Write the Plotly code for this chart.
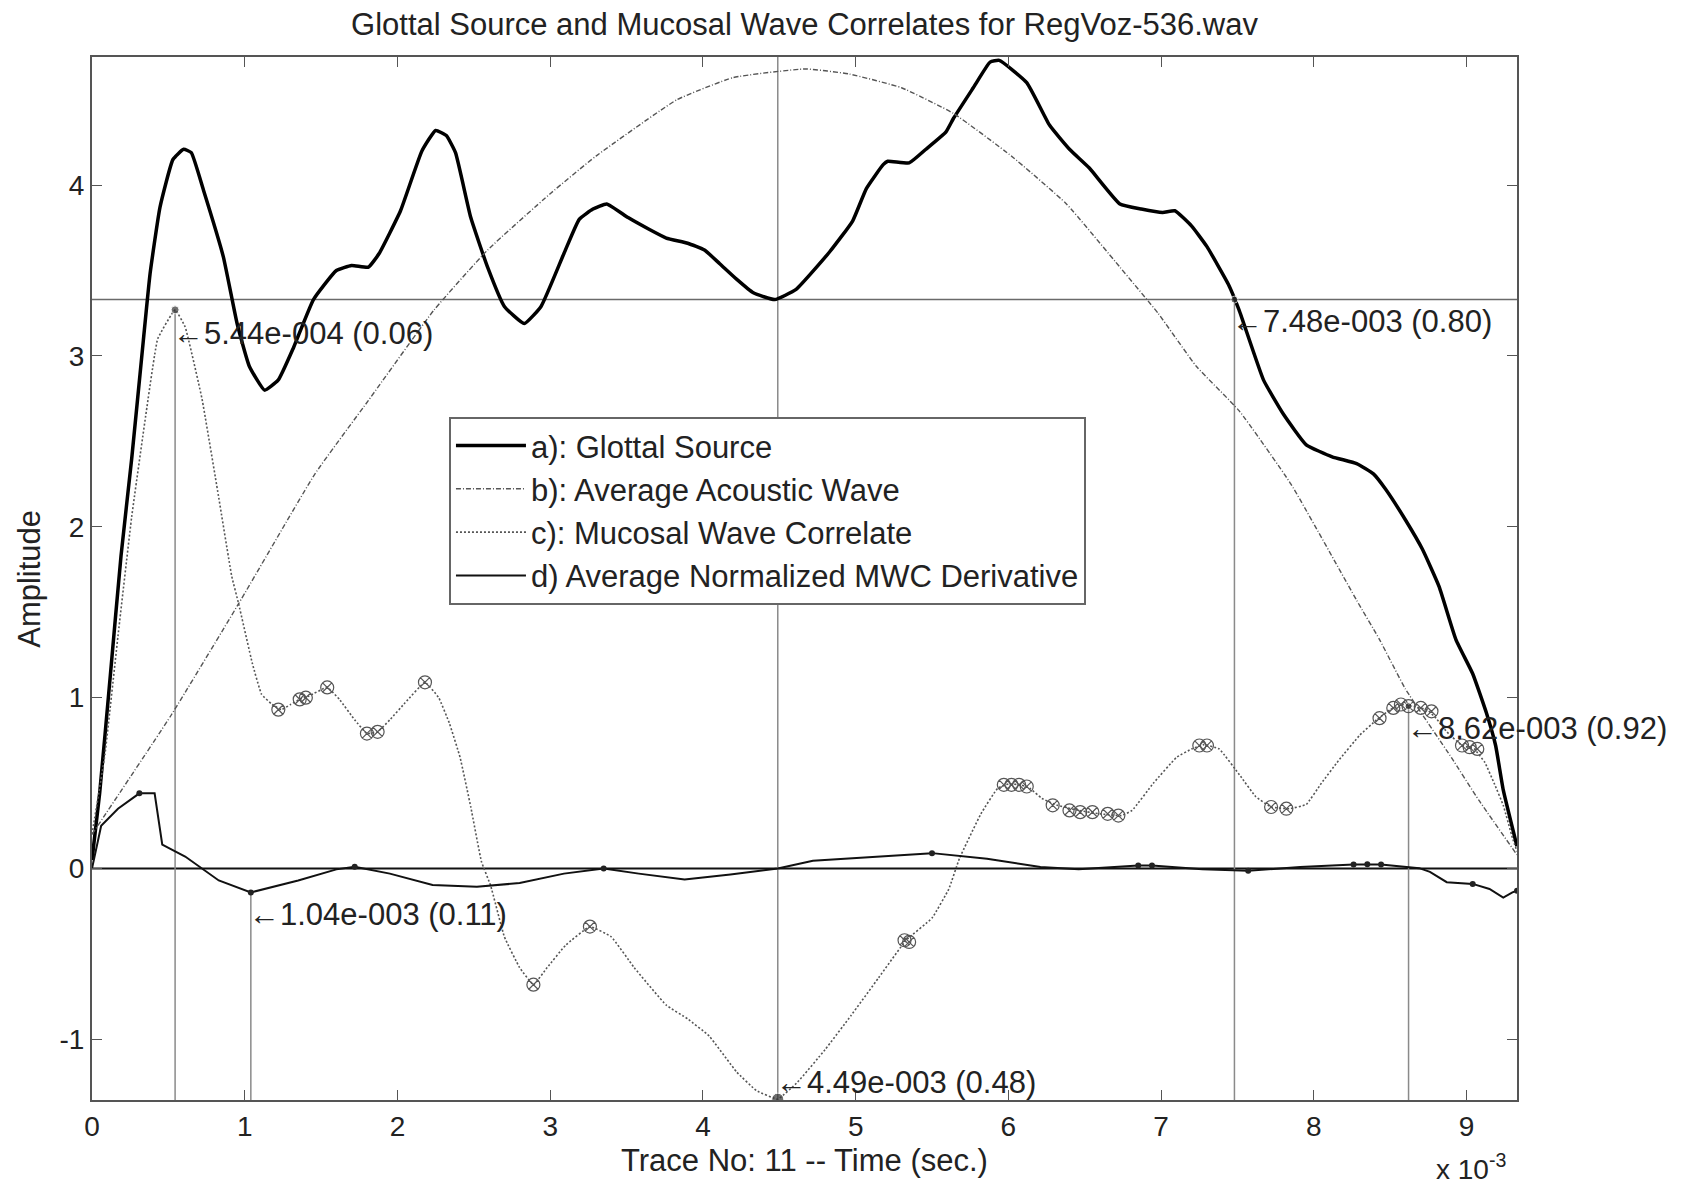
import plotly.graph_objects as go

# time axis in units of 1e-3 s (the axis carries an "x 10^-3" multiplier)

# a) glottal source
glottal_t = [0.0, 0.05, 0.12, 0.19, 0.26, 0.336, 0.38, 0.445, 0.53, 0.6, 0.65, 0.73, 0.86, 0.95,
             1.03, 1.13, 1.22, 1.32, 1.45, 1.6, 1.7, 1.81, 1.88, 2.02, 2.16, 2.25, 2.32, 2.38, 2.48,
             2.59, 2.70, 2.83, 2.94, 3.09, 3.19, 3.28, 3.37, 3.51, 3.65, 3.76, 3.9, 4.01, 4.11, 4.22,
             4.33, 4.47, 4.61, 4.83, 4.98, 5.07, 5.18, 5.21, 5.35, 5.46, 5.59, 5.64, 5.77, 5.88, 5.94,
             6.12, 6.27, 6.40, 6.53, 6.73, 6.87, 7.01, 7.09, 7.2, 7.30, 7.44, 7.51, 7.67, 7.80, 7.95,
             8.12, 8.28, 8.39, 8.47, 8.60, 8.71, 8.82, 8.93, 9.04, 9.13, 9.19, 9.24, 9.33]
glottal_a = [0.05, 0.44, 1.13, 1.83, 2.40, 3.09, 3.48, 3.87, 4.15, 4.21, 4.19, 3.97, 3.58, 3.19,
             2.94, 2.80, 2.86, 3.05, 3.33, 3.5, 3.53, 3.52, 3.6, 3.85, 4.2, 4.32, 4.29, 4.19, 3.81,
             3.52, 3.29, 3.19, 3.29, 3.6, 3.8, 3.86, 3.89, 3.81, 3.74, 3.69, 3.66, 3.62, 3.54, 3.45,
             3.37, 3.33, 3.39, 3.61, 3.79, 3.98, 4.12, 4.14, 4.13, 4.21, 4.31, 4.39, 4.57, 4.72, 4.73,
             4.60, 4.35, 4.21, 4.10, 3.89, 3.86, 3.84, 3.85, 3.76, 3.64, 3.42, 3.27, 2.86, 2.66, 2.48,
             2.41, 2.37, 2.31, 2.22, 2.04, 1.87, 1.65, 1.34, 1.14, 0.91, 0.72, 0.46, 0.13]

# b) average acoustic wave
acoustic_t = [0.0, 0.52, 0.96, 1.46, 1.81, 2.24, 2.59, 3.0, 3.3, 3.83, 4.2, 4.67, 4.96, 5.3, 5.64,
              6.02, 6.38, 6.73, 6.98, 7.23, 7.51, 7.85, 8.28, 8.43, 8.60, 8.9, 9.08, 9.33]
acoustic_a = [0.2, 0.9, 1.55, 2.31, 2.74, 3.27, 3.62, 3.95, 4.17, 4.50, 4.63, 4.68, 4.65, 4.57, 4.42,
              4.17, 3.89, 3.52, 3.25, 2.94, 2.68, 2.25, 1.57, 1.34, 1.05, 0.65, 0.40, 0.08]

# c) mucosal wave correlate
mwc_t = [0.0, 0.085, 0.17, 0.26, 0.35, 0.43, 0.544, 0.61, 0.72, 0.83, 0.915, 0.96, 1.05, 1.11, 1.18,
         1.24, 1.30, 1.36, 1.42, 1.54, 1.62, 1.72, 1.80, 1.87, 1.95, 2.05, 2.18, 2.27, 2.34, 2.41,
         2.48, 2.55, 2.61, 2.70, 2.80, 2.89, 2.98, 3.10, 3.26, 3.40, 3.55, 3.76, 3.90, 4.04, 4.22,
         4.35, 4.49, 4.62, 4.80, 4.97, 5.15, 5.33, 5.50, 5.61, 5.68, 5.82, 5.93, 6.00, 6.08, 6.14,
         6.22, 6.32, 6.46, 6.60, 6.74, 6.81, 6.95, 7.10, 7.20, 7.28, 7.38, 7.52, 7.62, 7.72, 7.84,
         7.95, 8.05, 8.16, 8.30, 8.41, 8.50, 8.58, 8.65, 8.74, 8.80, 8.87, 8.97, 9.05, 9.12, 9.18,
         9.24, 9.30, 9.33]
mwc_a = [0.2, 0.67, 1.36, 2.06, 2.64, 3.10, 3.27, 3.17, 2.75, 2.17, 1.71, 1.55, 1.20, 1.02, 0.96,
         0.93, 0.96, 0.99, 1.01, 1.06, 0.99, 0.87, 0.79, 0.80, 0.87, 0.97, 1.09, 1.0, 0.85, 0.65,
         0.36, 0.04, -0.10, -0.40, -0.58, -0.68, -0.58, -0.45, -0.34, -0.40, -0.58, -0.80, -0.88, -0.98, -1.19,
         -1.30, -1.35, -1.25, -1.06, -0.86, -0.64, -0.42, -0.29, -0.12, 0.06, 0.32, 0.47, 0.495, 0.49, 0.47,
         0.41, 0.37, 0.34, 0.32, 0.31, 0.34, 0.50, 0.65, 0.70, 0.725, 0.70, 0.54, 0.42, 0.36, 0.35,
         0.375, 0.50, 0.63, 0.78, 0.87, 0.93, 0.96, 0.95, 0.93, 0.88, 0.80, 0.72, 0.70, 0.62, 0.50,
         0.37, 0.18, 0.10]

# circles on the MWC local extrema
mwc_peak_t = [1.22, 1.36, 1.40, 1.54, 1.80, 1.87, 2.18, 2.89, 3.26, 5.32, 5.35, 5.97, 6.02, 6.07, 6.12,
              6.29, 6.40, 6.47, 6.55, 6.65, 6.72, 7.25, 7.30, 7.72, 7.82, 8.43, 8.52, 8.57, 8.62, 8.70,
              8.77, 8.97, 9.02, 9.07]
mwc_peak_a = [0.93, 0.99, 1.0, 1.06, 0.79, 0.80, 1.09, -0.68, -0.34, -0.42, -0.43, 0.49, 0.49, 0.49, 0.48,
              0.37, 0.34, 0.33, 0.33, 0.32, 0.31, 0.72, 0.72, 0.36, 0.35, 0.88, 0.94, 0.96, 0.95, 0.94,
              0.92, 0.72, 0.71, 0.70]

# d) average normalized MWC derivative
deriv_t = [0.0, 0.06, 0.17, 0.31, 0.41, 0.46, 0.61, 0.83, 1.04, 1.35, 1.60, 1.72, 1.95, 2.23, 2.52,
           2.80, 3.09, 3.35, 3.58, 3.88, 4.18, 4.49, 4.72, 4.97, 5.50, 5.86, 6.21, 6.46, 6.85, 6.94,
           7.27, 7.57, 7.91, 8.26, 8.35, 8.44, 8.69, 8.76, 8.87, 9.04, 9.15, 9.24, 9.30, 9.33]
deriv_a = [0.0, 0.25, 0.35, 0.44, 0.44, 0.14, 0.07, -0.07, -0.14, -0.07, -0.005, 0.01, -0.03, -0.096, -0.107,
           -0.085, -0.03, 0.0, -0.03, -0.064, -0.035, 0.0, 0.046, 0.061, 0.09, 0.057, 0.009, -0.004, 0.018, 0.018,
           -0.004, -0.013, 0.009, 0.024, 0.025, 0.024, 0.002, -0.02, -0.08, -0.09, -0.12, -0.17, -0.14, -0.13]
deriv_dot_t = [0.31, 1.04, 1.72, 3.35, 5.50, 6.85, 6.94, 7.57, 8.26, 8.35, 8.44, 9.04, 9.33]
deriv_dot_a = [0.44, -0.14, 0.01, 0.0, 0.09, 0.018, 0.018, -0.013, 0.024, 0.025, 0.024, -0.09, -0.13]

# marked instants and their labels
mark_t = [0.544, 1.04, 4.49, 7.48, 8.62]
mark_a = [3.27, -0.14, 4.75, 3.33, 0.95]
label_a = [3.13, -0.27, -1.25, 3.20, 0.82]
mark_text = ["5.44e-004 (0.06)", "1.04e-003 (0.11)", "4.49e-003 (0.48)",
             "7.48e-003 (0.80)", "8.62e-003 (0.92)"]
level_a = 3.33

t_max = 9.33
a_min, a_max = -1.355, 4.75
x_ticks = [0, 1, 2, 3, 4, 5, 6, 7, 8, 9]
y_ticks = [-1, 0, 1, 2, 3, 4]

FONT = "Liberation Sans, Arial, sans-serif"
TXT = "#222"
fig = go.Figure()

# reference lines
fig.add_trace(go.Scatter(x=[0, t_max], y=[level_a, level_a], mode="lines",
                         line=dict(color="#6a6a6a", width=1.5), showlegend=False, hoverinfo="skip"))
fig.add_trace(go.Scatter(x=[0, t_max], y=[0, 0], mode="lines",
                         line=dict(color="#111", width=2), showlegend=False, hoverinfo="skip"))
for t, top in zip(mark_t, mark_a):
    fig.add_trace(go.Scatter(x=[t, t], y=[a_min, top], mode="lines",
                             line=dict(color="#8a8a8a", width=1.5), showlegend=False, hoverinfo="skip"))

fig.add_trace(go.Scatter(x=glottal_t, y=glottal_a, mode="lines", name="a): Glottal Source",
                         line=dict(color="#000", width=3.5, shape="spline", smoothing=0.4)))
fig.add_trace(go.Scatter(x=acoustic_t, y=acoustic_a, mode="lines", name="b): Average Acoustic Wave",
                         line=dict(color="#555", width=1.4, dash="5px,2px,1px,2px",
                                   shape="spline", smoothing=0.4)))
fig.add_trace(go.Scatter(x=mwc_t, y=mwc_a, mode="lines", name="c): Mucosal Wave Correlate",
                         line=dict(color="#555", width=1.6, dash="2px,2px", shape="spline", smoothing=0.3)))
fig.add_trace(go.Scatter(x=deriv_t, y=deriv_a, mode="lines", name="d) Average Normalized MWC Derivative",
                         line=dict(color="#111", width=2)))

fig.add_trace(go.Scatter(x=mwc_peak_t, y=mwc_peak_a, mode="markers", showlegend=False,
                         marker=dict(symbol="circle-x-open", size=13, color="#555", line=dict(width=1.2))))
fig.add_trace(go.Scatter(x=deriv_dot_t, y=deriv_dot_a, mode="markers", showlegend=False,
                         marker=dict(symbol="circle", size=6, color="#222")))
fig.add_trace(go.Scatter(x=[mark_t[0], mark_t[2], mark_t[3], mark_t[4]],
                         y=[mark_a[0], -1.35, mark_a[3], mark_a[4]], mode="markers", showlegend=False,
                         marker=dict(symbol="circle", size=[8, 12, 7, 7], color="#333")))

annotations = []
for t, y, txt in zip(mark_t, label_a, mark_text):
    annotations.append(dict(x=t, y=y, xref="x", yref="y", text="\u2190" + txt, showarrow=False,
                            xanchor="left", yanchor="middle", xshift=-4,
                            font=dict(size=31, color=TXT)))
annotations += [
    dict(x=0.5, y=-0.058, xref="paper", yref="paper", text="Trace No: 11 -- Time (sec.)",
         showarrow=False, xanchor="center", yanchor="middle", font=dict(size=31, color=TXT)),
    dict(x=-0.044, y=0.5, xref="paper", yref="paper", text="Amplitude", textangle=-90,
         showarrow=False, xanchor="center", yanchor="middle", font=dict(size=31, color=TXT)),
    dict(x=0.968, y=-0.064, xref="paper", yref="paper", text="x 10<sup>-3</sup>",
         showarrow=False, xanchor="center", yanchor="middle", font=dict(size=28, color=TXT)),
]

fig.update_layout(
    width=1697, height=1187,
    margin=dict(l=92, r=180, t=57, b=87),
    paper_bgcolor="white", plot_bgcolor="white",
    font=dict(family=FONT, size=28, color=TXT),
    title=dict(text="Glottal Source and Mucosal Wave Correlates for RegVoz-536.wav",
               x=0.5, xref="paper", xanchor="center", y=0.98, yanchor="middle",
               font=dict(size=31, color=TXT)),
    showlegend=True,
    legend=dict(x=0.2505, y=0.655, xanchor="left", yanchor="top", bgcolor="white",
                bordercolor="#666", borderwidth=2, font=dict(size=31, color=TXT),
                itemwidth=70, tracegroupgap=0),
    annotations=annotations,
)
fig.update_xaxes(range=[0, t_max], tickvals=x_ticks, ticktext=[str(v) for v in x_ticks],
                 ticks="inside", ticklen=10, tickcolor="#555", mirror="ticks", showline=True,
                 linecolor="#555", linewidth=2, showgrid=False, zeroline=False)
fig.update_yaxes(range=[a_min, a_max], tickvals=y_ticks, ticktext=[str(v) for v in y_ticks],
                 ticks="inside", ticklen=10, tickcolor="#555", mirror="ticks", showline=True,
                 linecolor="#555", linewidth=2, showgrid=False, zeroline=False)

# the page body has a default 8px margin; drop it so the figure sits at the window origin
fig.write_html("out.html", config={"displayModeBar": False},
               post_script="document.body.style.margin='0';")
